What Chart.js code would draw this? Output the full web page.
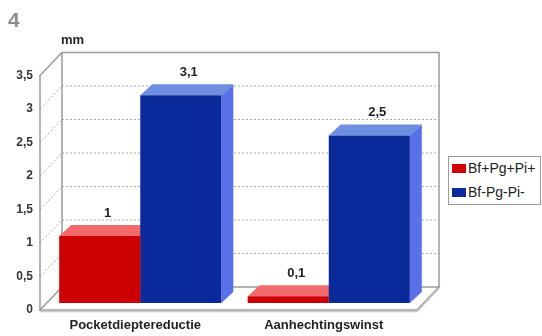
<!DOCTYPE html>
<html><head><meta charset="utf-8">
<script src="https://cdn.jsdelivr.net/npm/chart.js@4/dist/chart.umd.min.js"></script>
<style>
html,body{margin:0;padding:0;background:#fff;}
#wrap{position:relative;width:542px;height:336px;overflow:hidden;background:#fff;}
#c{position:absolute;left:0;top:0;}
#num{position:absolute;left:8px;top:8px;font:bold 21px "Liberation Sans",Arial,sans-serif;color:#8c8c8c;line-height:24px;}
#unit{position:absolute;left:61px;top:32px;font:bold 13px "Liberation Sans",Arial,sans-serif;color:#222;line-height:15px;}
#legend{position:absolute;left:448px;top:156px;width:93px;height:49px;border:1px solid #9a9a9a;box-sizing:border-box;background:#fff;}
.sw{position:absolute;left:3px;width:14px;height:9px;}
.lt{position:absolute;left:19px;font:14px "Liberation Sans",Arial,sans-serif;color:#222;white-space:nowrap;line-height:16px;}
</style></head>
<body>
<div id="wrap">
<canvas id="c" width="542" height="336"></canvas>
<div id="num">4</div>
<div id="unit">mm</div>
<div id="legend"></div>
</div>
<script>
// ---- data ----
const categories = ['Pocketdieptereductie', 'Aanhechtingswinst'];
const seriesNames = ['Bf+Pg+Pi+', 'Bf-Pg-Pi-'];
const seriesA = [1, 0.1];
const seriesB = [3.1, 2.5];
const yMin = 0, yMax = 3.5, yStep = 0.5;

// ---- styles ----
const frontColors = ['#cc0000', '#0a2a9c'];
const topColors = ['#f26a6a', '#6e8ee2'];
const sideColors = ['#e03a3a', '#5a70e8'];
const FRONT = {dx: -6, dy: 7};
const BACK = {dx: 16, dy: -16};
const DEPTH = {dx: 12, dy: -11};
const fmt = v => String(v).replace('.', ',');

// legend
const lg = document.getElementById('legend');
seriesNames.forEach((n, i) => {
  const sw = document.createElement('div');
  sw.className = 'sw'; sw.style.background = frontColors[i];
  sw.style.top = (7 + i * 24) + 'px';
  const t = document.createElement('div');
  t.className = 'lt'; t.textContent = n;
  t.style.top = (3 + i * 24) + 'px';
  lg.appendChild(sw); lg.appendChild(t);
});

const walls = {
  id: 'walls',
  beforeDatasetsDraw(chart) {
    const {ctx, chartArea: a, scales: {y}} = chart;
    const fl = a.left + FRONT.dx, fr = a.right + FRONT.dx;
    const bl = a.left + BACK.dx, br = a.right + BACK.dx;
    const fy = v => y.getPixelForValue(v) + FRONT.dy;
    const by = v => y.getPixelForValue(v) + BACK.dy;
    ctx.save();
    // dotted gridlines: back wall and left wall
    ctx.strokeStyle = '#a8a8a8'; ctx.lineWidth = 1; ctx.setLineDash([2, 2]);
    y.ticks.forEach(t => {
      const v = t.value;
      if (v <= yMin || v >= yMax) return;
      ctx.beginPath(); ctx.moveTo(bl, by(v)); ctx.lineTo(br, by(v)); ctx.stroke();
      ctx.beginPath(); ctx.moveTo(fl, fy(v)); ctx.lineTo(bl, by(v)); ctx.stroke();
    });
    ctx.setLineDash([]);
    // floor
    ctx.beginPath();
    ctx.moveTo(fl, fy(0)); ctx.lineTo(fr, fy(0)); ctx.lineTo(br, by(0)); ctx.lineTo(bl, by(0)); ctx.closePath();
    ctx.fillStyle = '#fff'; ctx.fill();
    ctx.strokeStyle = '#9a9a9a'; ctx.lineWidth = 1.5; ctx.stroke();
    ctx.beginPath(); ctx.moveTo(fl, fy(0) + 1.5); ctx.lineTo(fr, fy(0) + 1.5); ctx.lineTo(br, by(0) + 1.5);
    ctx.strokeStyle = '#c8c8c8'; ctx.lineWidth = 1.5; ctx.stroke();
    // wall outlines
    ctx.strokeStyle = '#9a9a9a'; ctx.lineWidth = 1.5;
    ctx.beginPath();
    ctx.moveTo(fl, fy(0)); ctx.lineTo(fl, fy(yMax)); ctx.lineTo(bl, by(yMax)); ctx.lineTo(br, by(yMax)); ctx.lineTo(br, by(0));
    ctx.moveTo(bl, by(0)); ctx.lineTo(bl, by(yMax));
    ctx.stroke();
    // top and side faces of bars (front faces are drawn by the library on top)
    chart.data.datasets.forEach((ds, i) => {
      chart.getDatasetMeta(i).data.forEach(el => {
        const p = el.getProps(['x', 'y', 'base', 'width'], true);
        const l = p.x - p.width / 2, r = p.x + p.width / 2;
        ctx.beginPath();
        ctx.moveTo(l, p.y); ctx.lineTo(r, p.y); ctx.lineTo(r + DEPTH.dx, p.y + DEPTH.dy); ctx.lineTo(l + DEPTH.dx, p.y + DEPTH.dy); ctx.closePath();
        ctx.fillStyle = topColors[i]; ctx.fill();
        ctx.beginPath();
        ctx.moveTo(r, p.y); ctx.lineTo(r + DEPTH.dx, p.y + DEPTH.dy); ctx.lineTo(r + DEPTH.dx, p.base + DEPTH.dy); ctx.lineTo(r, p.base); ctx.closePath();
        ctx.fillStyle = sideColors[i]; ctx.fill();
      });
    });
    ctx.restore();
  },
  afterDatasetsDraw(chart) {
    const {ctx} = chart;
    ctx.save();
    ctx.font = 'bold 13px "Liberation Sans", Arial, sans-serif';
    ctx.fillStyle = '#222'; ctx.textAlign = 'center'; ctx.textBaseline = 'middle';
    chart.data.datasets.forEach((ds, i) => {
      chart.getDatasetMeta(i).data.forEach((el, j) => {
        const p = el.getProps(['x', 'y'], true);
        ctx.fillText(fmt(ds.data[j]), p.x + 8, p.y + DEPTH.dy - 12);
      });
    });
    ctx.restore();
  }
};

new Chart(document.getElementById('c'), {
  type: 'bar',
  data: {
    labels: categories,
    datasets: [
      {label: seriesNames[0], data: seriesA, backgroundColor: frontColors[0], borderWidth: 0},
      {label: seriesNames[1], data: seriesB, backgroundColor: frontColors[1], borderWidth: 0}
    ]
  },
  options: {
    responsive: false, animation: false, devicePixelRatio: 1,
    datasets: {bar: {barPercentage: 1, categoryPercentage: 0.86}},
    layout: {padding: {top: 68.5, right: 119, bottom: 0, left: 0}},
    plugins: {legend: {display: false}, tooltip: {enabled: false}},
    scales: {
      x: {
        grid: {display: false, drawTicks: false}, border: {display: false},
        ticks: {padding: 15, labelOffset: -5, color: '#222', font: {family: '"Liberation Sans", Arial, sans-serif', size: 13, weight: 'bold'}},
        afterFit: s => { s.height = 33; }
      },
      y: {
        min: yMin, max: yMax,
        grid: {display: false, drawTicks: false}, border: {display: false},
        ticks: {stepSize: yStep, padding: 13, labelOffset: 7, color: '#333',
          font: {family: '"Liberation Sans", Arial, sans-serif', size: 12, weight: 'bold'},
          callback: v => fmt(v)},
        afterFit: s => { s.width = 46; }
      }
    }
  },
  plugins: [walls]
});
</script>
</body></html>
